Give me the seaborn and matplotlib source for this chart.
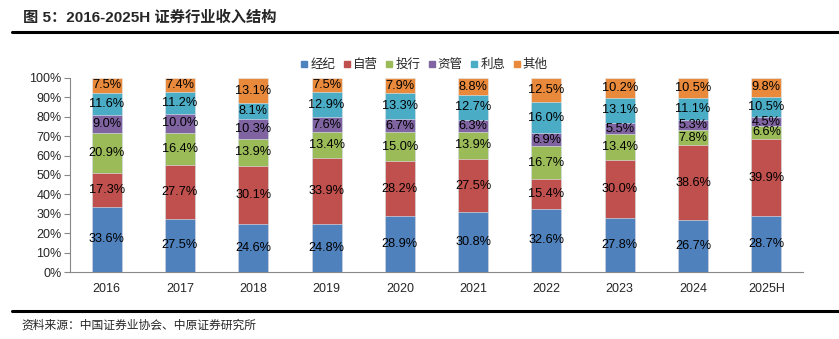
import numpy as np
import pandas as pd
import matplotlib
matplotlib.use("Agg")
import matplotlib.pyplot as plt
import seaborn as sns
from matplotlib.lines import Line2D

years = ["2016", "2017", "2018", "2019", "2020", "2021", "2022", "2023", "2024", "2025H"]
series_names = ["经纪", "自营", "投行", "资管", "利息", "其他"]
brokerage = [33.6, 27.5, 24.6, 24.8, 28.9, 30.8, 32.6, 27.8, 26.7, 28.7]
proprietary = [17.3, 27.7, 30.1, 33.9, 28.2, 27.5, 15.4, 30.0, 38.6, 39.9]
ibanking = [20.9, 16.4, 13.9, 13.4, 15.0, 13.9, 16.7, 13.4, 7.8, 6.6]
asset_mgmt = [9.0, 10.0, 10.3, 7.6, 6.7, 6.3, 6.9, 5.5, 5.3, 4.5]
interest = [11.6, 11.2, 8.1, 12.9, 13.3, 12.7, 16.0, 13.1, 11.1, 10.5]
other = [7.5, 7.4, 13.1, 7.5, 7.9, 8.8, 12.5, 10.2, 10.5, 9.8]
colors = ["#4F81BD", "#C0504D", "#9BBB59", "#8064A2", "#4BACC6", "#E8893B"]

sns.set_style("white")
plt.rcParams["font.family"] = ["Liberation Sans", "Noto Sans CJK SC", "DejaVu Sans"]
plt.rcParams["axes.unicode_minus"] = False

values = np.array([brokerage, proprietary, ibanking, asset_mgmt, interest, other])
cum = np.cumsum(values, axis=0)

fig = plt.figure(figsize=(8.39, 3.39), dpi=100)
ax = fig.add_axes([0.0834, 0.1976, 0.8737, 0.5724])

# stacked bars: draw cumulative totals from the top layer down
for i in range(len(series_names) - 1, -1, -1):
    df = pd.DataFrame({"year": years, "v": cum[i] / 100.0})
    sns.barplot(data=df, x="year", y="v", color=colors[i], width=0.41,
                saturation=1, ax=ax, edgecolor="#e6eef6", linewidth=0.4)

# segment labels
for i in range(len(series_names)):
    for j in range(len(years)):
        top = min(cum[i][j], 100.0)
        bottom = cum[i][j] - values[i][j]
        ax.text(j, (bottom + top) / 200.0, f"{values[i][j]:.1f}%",
                ha="center", va="center", fontsize=9.2, color="black")

ax.set_ylim(0, 1.0)
ax.set_xlim(-0.5, len(years) - 0.5)
ax.set_yticks(np.arange(0, 1.01, 0.1))
ax.set_yticklabels([f"{int(round(t * 100))}%" for t in np.arange(0, 1.01, 0.1)])
ax.set_xlabel("")
ax.set_ylabel("")
ax.set_xticks(np.arange(-0.5, len(years) + 0.5, 1.0), minor=True)
ax.tick_params(axis="x", which="major", length=0, labelsize=9, pad=8)
ax.tick_params(axis="x", which="minor", length=4, width=0.8, color="#888888", direction="out")
ax.tick_params(axis="y", which="major", length=4, width=0.8, color="#888888", direction="out",
               labelsize=9, pad=2, left=True)
for s in ["top", "right"]:
    ax.spines[s].set_visible(False)
for s in ["left", "bottom"]:
    ax.spines[s].set_color("#888888")
    ax.spines[s].set_linewidth(0.8)

handles = [Line2D([0], [0], marker="s", linestyle="none", markersize=5,
                  markerfacecolor=c, markeredgecolor=c) for c in colors]
fig.legend(handles, series_names, loc="center", bbox_to_anchor=(0.505, 0.81),
           ncol=6, frameon=False, handlelength=0.7, handletextpad=0.15, columnspacing=0.55,
           prop={"family": ["Noto Sans CJK SC"], "size": 9})

# title, rules and source note
fig.text(0.027, 0.947, "图 5：2016-2025H 证券行业收入结构", fontsize=11, fontweight="bold",
         ha="left", va="center", family=["Liberation Sans", "Noto Sans CJK SC"])
fig.add_artist(Line2D([0.0143, 1.0], [0.906, 0.906], color="black", linewidth=2.2))
fig.add_artist(Line2D([0.0143, 1.0], [0.083, 0.083], color="black", linewidth=2.2))
fig.text(0.026, 0.04, "资料来源：中国证券业协会、中原证券研究所", fontsize=8.5,
         ha="left", va="center", family=["Noto Sans CJK SC"])

fig.savefig("out.png", dpi=100)
